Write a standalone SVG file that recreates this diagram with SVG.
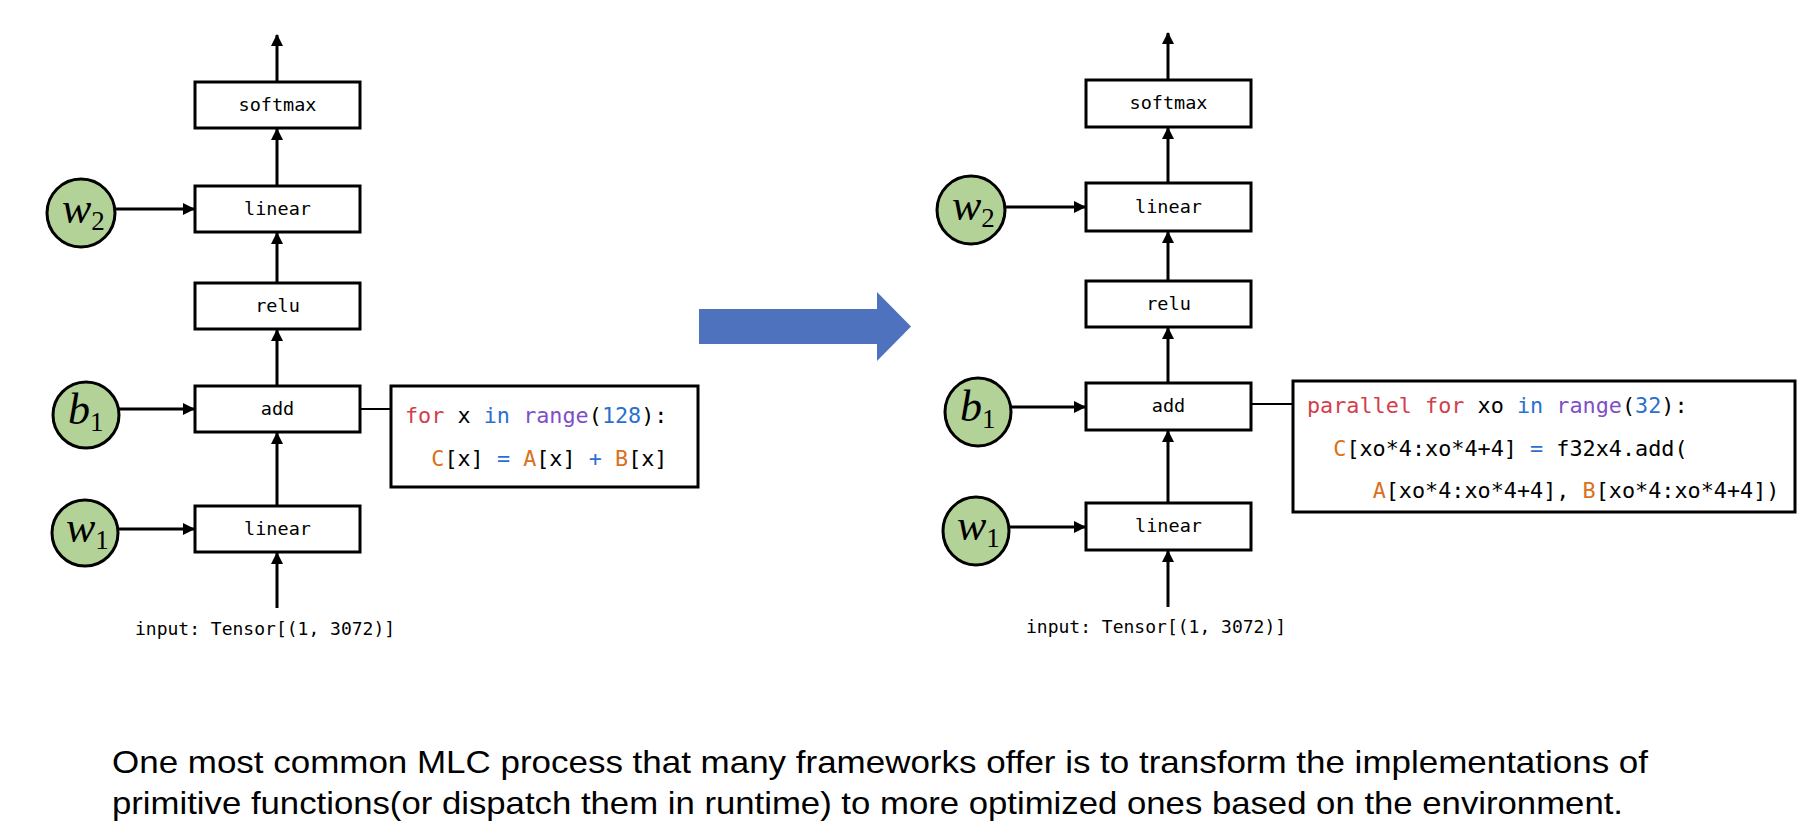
<svg xmlns="http://www.w3.org/2000/svg" width="1808" height="840" viewBox="0 0 1808 840">
<style>
.box{fill:#fff;stroke:#000;stroke-width:3}
.circ{fill:#B3D297;stroke:#000;stroke-width:3}
.lbl{font-family:"DejaVu Sans Mono","Liberation Mono",monospace;font-size:18.5px;fill:#000;text-anchor:middle}
.inp{font-family:"DejaVu Sans Mono","Liberation Mono",monospace;font-size:18px;fill:#000}
.var{font-family:"Liberation Serif",serif;font-style:italic;font-size:44px;fill:#000}
.sub{font-family:"Liberation Serif",serif;font-size:27px;fill:#000}
.code{font-family:"DejaVu Sans Mono","Liberation Mono",monospace;font-size:21.8px;fill:#000;white-space:pre}
.kw{fill:#D2404C}.bl{fill:#2B6FD0}.pu{fill:#7E4FC6}.or{fill:#DA7020}
.edge{stroke:#000;stroke-width:3;fill:none}
.thin{stroke:#000;stroke-width:2;fill:none}
.cap{font-family:"Liberation Sans",Arial,sans-serif;font-size:32px;fill:#000}
</style>
<defs>
<marker id="ah" viewBox="0 0 12 12" refX="11" refY="6" markerWidth="12" markerHeight="12" markerUnits="userSpaceOnUse" orient="auto">
<path d="M0,0 L12,6 L0,12 Z" fill="#000"/>
</marker>
</defs>
<rect width="1808" height="840" fill="#fff"/>

<g id="connectors">
<line class="edge" x1="277" y1="82" x2="277" y2="35" marker-end="url(#ah)"/>
<line class="edge" x1="277" y1="186" x2="277" y2="129" marker-end="url(#ah)"/>
<line class="edge" x1="277" y1="283" x2="277" y2="233" marker-end="url(#ah)"/>
<line class="edge" x1="277" y1="386" x2="277" y2="330" marker-end="url(#ah)"/>
<line class="edge" x1="277" y1="506" x2="277" y2="433" marker-end="url(#ah)"/>
<line class="edge" x1="277" y1="608" x2="277" y2="553" marker-end="url(#ah)"/>
<line class="edge" x1="115" y1="209" x2="194" y2="209" marker-end="url(#ah)"/>
<line class="edge" x1="119" y1="409" x2="194" y2="409" marker-end="url(#ah)"/>
<line class="edge" x1="118" y1="529" x2="194" y2="529" marker-end="url(#ah)"/>
<line class="thin" x1="360" y1="409" x2="391" y2="409"/>
<line class="edge" x1="1168" y1="80" x2="1168" y2="33" marker-end="url(#ah)"/>
<line class="edge" x1="1168" y1="183" x2="1168" y2="128" marker-end="url(#ah)"/>
<line class="edge" x1="1168" y1="281" x2="1168" y2="232" marker-end="url(#ah)"/>
<line class="edge" x1="1168" y1="383" x2="1168" y2="328" marker-end="url(#ah)"/>
<line class="edge" x1="1168" y1="503" x2="1168" y2="431" marker-end="url(#ah)"/>
<line class="edge" x1="1168" y1="607" x2="1168" y2="551" marker-end="url(#ah)"/>
<line class="edge" x1="1005" y1="207" x2="1085" y2="207" marker-end="url(#ah)"/>
<line class="edge" x1="1011" y1="407" x2="1085" y2="407" marker-end="url(#ah)"/>
<line class="edge" x1="1009" y1="527" x2="1085" y2="527" marker-end="url(#ah)"/>
<line class="thin" x1="1251" y1="404" x2="1293" y2="404"/>
</g>

<g id="L_softmax"><rect class="box" x="195" y="82" width="165" height="46"/><text class="lbl" x="277.5" y="111">softmax</text></g>
<g id="L_linear2"><rect class="box" x="195" y="186" width="165" height="46"/><text class="lbl" x="277.5" y="215">linear</text></g>
<g id="L_relu"><rect class="box" x="195" y="283" width="165" height="46"/><text class="lbl" x="277.5" y="312">relu</text></g>
<g id="L_add"><rect class="box" x="195" y="386" width="165" height="46"/><text class="lbl" x="277.5" y="415">add</text></g>
<g id="L_linear1"><rect class="box" x="195" y="506" width="165" height="46"/><text class="lbl" x="277.5" y="535">linear</text></g>
<g id="L_w2"><circle class="circ" cx="81" cy="213" r="34"/><text x="62" y="223"><tspan class="var">w</tspan><tspan class="sub" dy="7">2</tspan></text></g>
<g id="L_b1"><ellipse class="circ" cx="86" cy="415" rx="33" ry="33"/><text x="68" y="424"><tspan class="var">b</tspan><tspan class="sub" dy="7">1</tspan></text></g>
<g id="L_w1"><ellipse class="circ" cx="85" cy="533" rx="33" ry="33"/><text x="66" y="542"><tspan class="var">w</tspan><tspan class="sub" dy="7">1</tspan></text></g>
<g id="L_input"><text class="inp" x="135" y="635">input: Tensor[(1, 3072)]</text></g>
<g id="L_code">
<rect class="box" x="391" y="386" width="307" height="101"/>
<text class="code" x="405" y="423" xml:space="preserve"><tspan class="kw">for</tspan> x <tspan class="bl">in</tspan> <tspan class="pu">range</tspan>(<tspan class="bl">128</tspan>):</text>
<text class="code" x="405" y="466" xml:space="preserve">  <tspan class="or">C</tspan>[x] <tspan class="bl">=</tspan> <tspan class="or">A</tspan>[x] <tspan class="bl">+</tspan> <tspan class="or">B</tspan>[x]</text>
</g>

<g id="transform_arrow"><polygon points="699,309 877,309 877,292 911,326.5 877,361 877,344 699,344" fill="#4E72BE"/></g>

<g id="R_softmax"><rect class="box" x="1086" y="80" width="165" height="47"/><text class="lbl" x="1168.5" y="109">softmax</text></g>
<g id="R_linear2"><rect class="box" x="1086" y="183" width="165" height="48"/><text class="lbl" x="1168.5" y="213">linear</text></g>
<g id="R_relu"><rect class="box" x="1086" y="281" width="165" height="46"/><text class="lbl" x="1168.5" y="310">relu</text></g>
<g id="R_add"><rect class="box" x="1086" y="383" width="165" height="47"/><text class="lbl" x="1168.5" y="412">add</text></g>
<g id="R_linear1"><rect class="box" x="1086" y="503" width="165" height="47"/><text class="lbl" x="1168.5" y="532">linear</text></g>
<g id="R_w2"><circle class="circ" cx="971" cy="210" r="34"/><text x="952" y="220"><tspan class="var">w</tspan><tspan class="sub" dy="7">2</tspan></text></g>
<g id="R_b1"><ellipse class="circ" cx="978" cy="412" rx="33" ry="34"/><text x="960" y="421"><tspan class="var">b</tspan><tspan class="sub" dy="7">1</tspan></text></g>
<g id="R_w1"><ellipse class="circ" cx="976" cy="531" rx="33" ry="34"/><text x="957" y="540"><tspan class="var">w</tspan><tspan class="sub" dy="7">1</tspan></text></g>
<g id="R_input"><text class="inp" x="1026" y="633">input: Tensor[(1, 3072)]</text></g>
<g id="R_code">
<rect class="box" x="1293" y="381" width="502" height="131"/>
<text class="code" x="1307" y="413" xml:space="preserve"><tspan class="kw">parallel</tspan> <tspan class="kw">for</tspan> xo <tspan class="bl">in</tspan> <tspan class="pu">range</tspan>(<tspan class="bl">32</tspan>):</text>
<text class="code" x="1307" y="456" xml:space="preserve">  <tspan class="or">C</tspan>[xo*4:xo*4+4] <tspan class="bl">=</tspan> f32x4.add(</text>
<text class="code" x="1307" y="498" xml:space="preserve">     <tspan class="or">A</tspan>[xo*4:xo*4+4], <tspan class="or">B</tspan>[xo*4:xo*4+4])</text>
</g>

<g id="caption">
<text class="cap" x="112" y="773" textLength="1536" lengthAdjust="spacingAndGlyphs">One most common MLC process that many frameworks offer is to transform the implementations of</text>
<text class="cap" x="112" y="814" textLength="1511" lengthAdjust="spacingAndGlyphs">primitive functions(or dispatch them in runtime) to more optimized ones based on the environment.</text>
</g>
</svg>
